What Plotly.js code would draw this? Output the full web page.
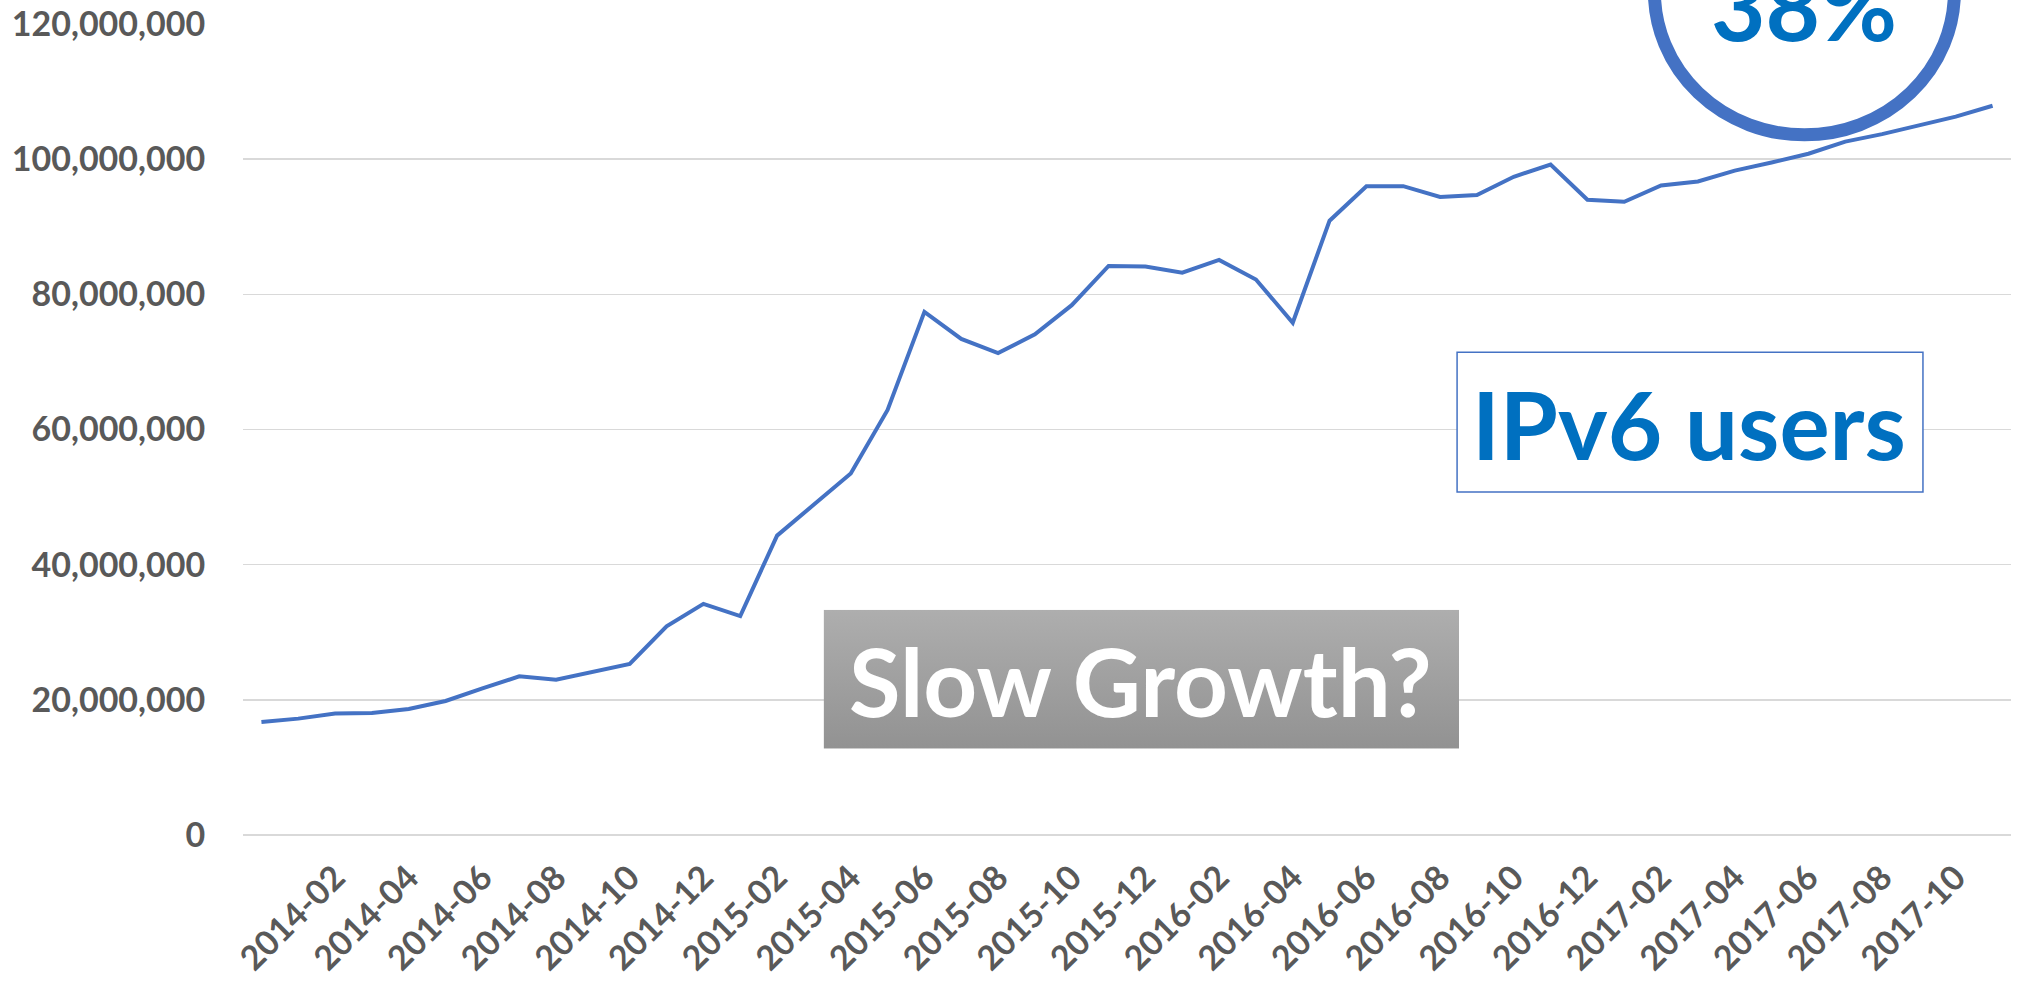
<!DOCTYPE html>
<html>
<head>
<meta charset="utf-8">
<script src="https://cdn.plot.ly/plotly-3.0.1.min.js"></script>
<style>
  html, body { margin: 0; padding: 0; background: #ffffff; }
  #chart { width: 2020px; height: 982px; }
</style>
</head>
<body>
<div id="chart"></div>
<script>
// ---- data ----
const months = [
  "2013-12",
  "2014-01","2014-02","2014-03","2014-04","2014-05","2014-06","2014-07","2014-08","2014-09","2014-10","2014-11","2014-12",
  "2015-01","2015-02","2015-03","2015-04","2015-05","2015-06","2015-07","2015-08","2015-09","2015-10","2015-11","2015-12",
  "2016-01","2016-02","2016-03","2016-04","2016-05","2016-06","2016-07","2016-08","2016-09","2016-10","2016-11","2016-12",
  "2017-01","2017-02","2017-03","2017-04","2017-05","2017-06","2017-07","2017-08","2017-09","2017-10","2017-11"
];
const ipv6Users = [
  16730000,
  17220000, 17960000, 18060000, 18650000, 19830000, 21700000, 23470000, 22980000, 24120000, 25300000, 30870000, 34200000,
  32400000, 44300000, 48900000, 53500000, 62900000, 77400000, 73400000, 71300000, 74100000, 78400000, 84200000, 84100000,
  83200000, 85100000, 82200000, 75800000, 90900000, 96000000, 96000000, 94400000, 94700000, 97400000, 99200000, 94000000,
  93700000, 96100000, 96700000, 98300000, 99500000, 100800000, 102600000, 103700000, 105000000, 106300000, 107900000
];
const xTickLabels = [
  "2014-02","2014-04","2014-06","2014-08","2014-10","2014-12",
  "2015-02","2015-04","2015-06","2015-08","2015-10","2015-12",
  "2016-02","2016-04","2016-06","2016-08","2016-10","2016-12",
  "2017-02","2017-04","2017-06","2017-08","2017-10"
];
const yTickValues = [0, 20000000, 40000000, 60000000, 80000000, 100000000, 120000000];
const labelSlow = "Slow Growth?";
const labelUsers = "IPv6 users";
const labelPct = "38%";

// ---- styling ----
const FONT = "Lato, 'Open Sans', sans-serif";
const tickFont = { family: FONT, size: 34, color: "#595959", weight: 700 };

const gradSvg = "<svg xmlns='http://www.w3.org/2000/svg' width='100' height='100' viewBox='0 0 100 100' preserveAspectRatio='none'>" +
  "<defs><linearGradient id='g' x1='0' y1='0' x2='0' y2='1'>" +
  "<stop offset='0' stop-color='#AEAEAE'/><stop offset='1' stop-color='#929292'/>" +
  "</linearGradient></defs><rect x='0' y='0' width='100' height='100' fill='url(#g)'/></svg>";
const gradUri = "data:image/svg+xml;charset=utf-8," + encodeURIComponent(gradSvg);

const trace = {
  type: "scatter",
  mode: "lines",
  x: months,
  y: ipv6Users,
  line: { color: "#4472C4", width: 4 },
  hoverinfo: "x+y"
};

const layout = {
  width: 2020,
  height: 982,
  margin: { l: 243, r: 9, t: 23.5, b: 146.5, pad: 0 },
  paper_bgcolor: "#ffffff",
  plot_bgcolor: "#ffffff",
  showlegend: false,
  xaxis: {
    type: "category",
    categoryorder: "array",
    categoryarray: months,
    range: [-0.5, months.length - 0.5],
    tickmode: "array",
    tickvals: xTickLabels,
    ticktext: xTickLabels,
    tickangle: -45,
    tickfont: tickFont,
    ticks: "outside",
    ticklen: 8,
    tickcolor: "rgba(0,0,0,0)",
    showgrid: false,
    zeroline: false,
    showline: false,
    fixedrange: true
  },
  yaxis: {
    range: [0, 120000000],
    tickmode: "array",
    tickvals: yTickValues,
    tickformat: ",d",
    tickfont: tickFont,
    ticks: "outside",
    ticklen: 30,
    tickcolor: "rgba(0,0,0,0)",
    showgrid: true,
    gridcolor: "#D9D9D9",
    gridwidth: 1.5,
    zeroline: true,
    zerolinecolor: "#D9D9D9",
    zerolinewidth: 1.5,
    showline: false,
    fixedrange: true
  },
  images: [{
    source: gradUri,
    xref: "paper", yref: "paper",
    x: 0.3284, y: 0.2777,
    sizex: 0.6878 - 0.3284, sizey: 0.2777 - 0.1065,
    xanchor: "left", yanchor: "top",
    sizing: "stretch",
    layer: "above"
  }],
  shapes: [
    {
      type: "rect", xref: "paper", yref: "paper",
      x0: 0.6867, x1: 0.9502, y0: 0.4230, y1: 0.5954,
      fillcolor: "#ffffff",
      line: { color: "#4472C4", width: 1.5 },
      layer: "above"
    },
    {
      type: "circle", xref: "paper", yref: "paper",
      x0: 0.7983, x1: 0.9680, y0: 0.8633, y1: 1.2167,
      fillcolor: "#ffffff",
      line: { color: "#4472C4", width: 13 },
      layer: "above"
    }
  ],
  annotations: [
    {
      text: labelSlow, xref: "paper", yref: "paper",
      x: 0.5079, y: 0.1903, xanchor: "center", yanchor: "middle",
      showarrow: false,
      font: { family: FONT, size: 94, color: "#ffffff", weight: 700 }
    },
    {
      text: labelUsers, xref: "paper", yref: "paper",
      x: 0.8181, y: 0.5074, xanchor: "center", yanchor: "middle",
      showarrow: false,
      font: { family: FONT, size: 94, color: "#0070C0", weight: 700 }
    },
    {
      text: labelPct, xref: "paper", yref: "paper",
      x: 0.8830, y: 1.024, xanchor: "center", yanchor: "middle",
      showarrow: false,
      font: { family: FONT, size: 94, color: "#0070C0", weight: 700 }
    }
  ]
};

Plotly.newPlot("chart", [trace], layout, { displayModeBar: false, staticPlot: true });
</script>
</body>
</html>
